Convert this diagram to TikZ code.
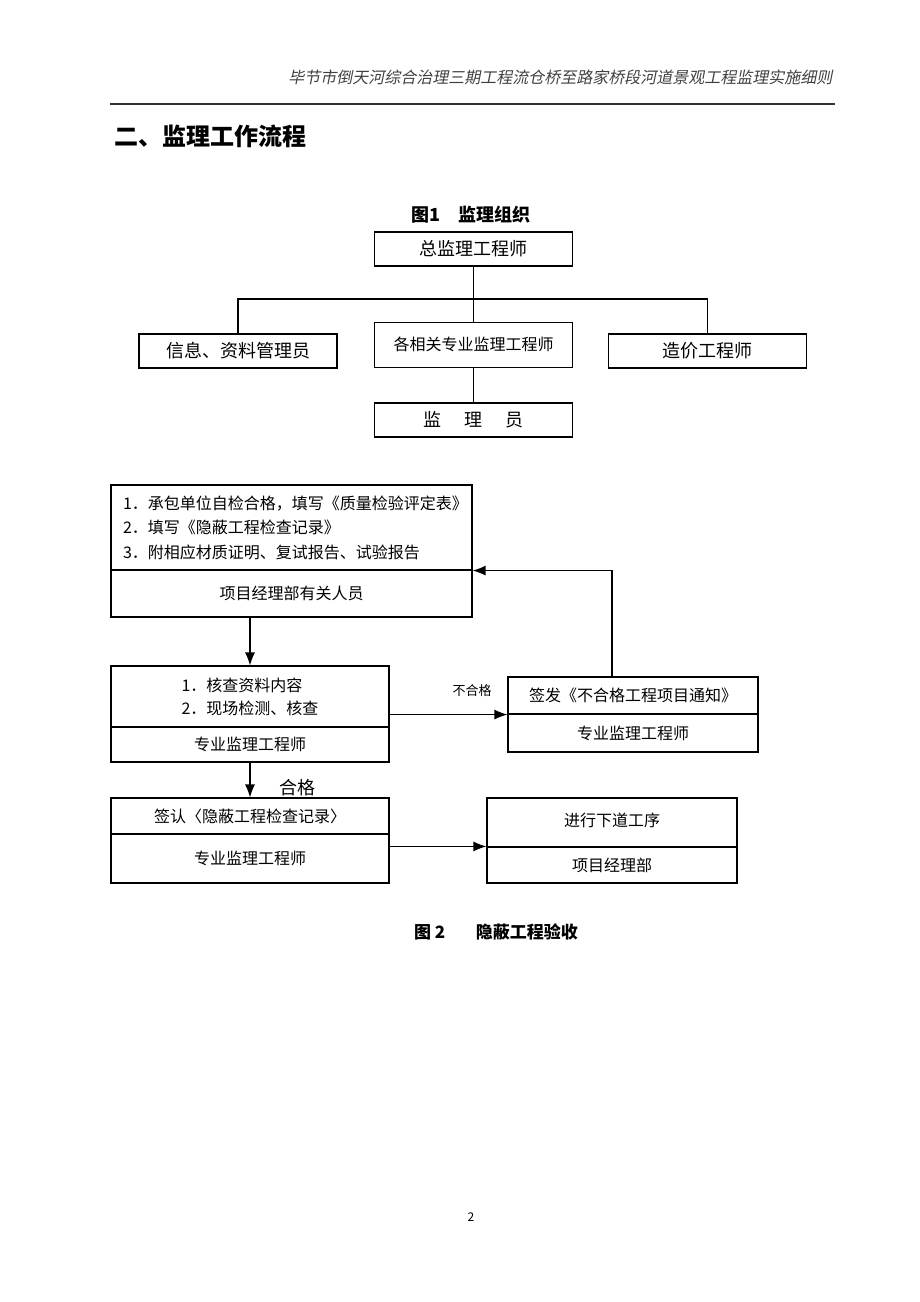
\documentclass[tikz,border=0pt]{standalone}
\usepackage{fontspec}
\setmainfont{Noto Sans CJK SC}
\newfontfamily\hdrfont{Noto Sans CJK SC}[FakeSlant=0.2]
\usetikzlibrary{arrows.meta}

\tikzset{
    box/.style={draw, line width=1.1pt, rectangle, inner sep=0pt, font=\fontsize{16}{23}\selectfont},
    orgbox/.style={box, minimum width=198pt, minimum height=34pt, font=\fontsize{18}{22}\selectfont},
    flow/.style={line width=1.2pt, -{Latex[length=13pt,width=10pt]}},
    link/.style={line width=1.1pt}
}

\begin{document}
\begin{tikzpicture}[x=1pt, y=-1pt]
        \useasboundingbox (0,0) rectangle (920,1302);

        % Page header and rule
        \node[anchor=east, text=black!75] (header) at (836, 77) {\hdrfont\fontsize{16}{18}\selectfont 毕节市倒天河综合治理三期工程流仓桥至路家桥段河道景观工程监理实施细则};
        \draw[line width=1.6pt, black!80] (110, 104) -- (835, 104);
        \node[anchor=west] (title) at (111, 136) {\fontsize{24}{28}\selectfont\bfseries 二、监理工作流程};

        % Figure 1: supervision organisation
        \node (cap1) at (471, 215) {\fontsize{18}{20}\selectfont\bfseries 图1\quad 监理组织};
        \node[orgbox] (zong) at (473.5, 249) {总监理工程师};
        \node[orgbox] (xinxi) at (238, 351) {信息、资料管理员};
        \node[orgbox, minimum height=45pt, font=\fontsize{16}{20}\selectfont] (gexiang) at (473.5, 345) {\raisebox{2pt}{各相关专业监理工程师}};
        \node[orgbox] (zaojia) at (707.5, 351) {造价工程师};
        \node[orgbox] (jly) at (473.5, 420) {监\hspace{1.3em}理\hspace{1.3em}员};

        \coordinate (hub) at (473.5, 299);
        \draw[link] (zong.south) -- (gexiang.north);
        \draw[link] (xinxi.north) |- (hub) -| (zaojia.north);
        \draw[link] (gexiang.south) -- (jly.north);

        % Figure 2: acceptance of concealed works
        \node[box, minimum width=361pt, minimum height=85pt, align=left, text width=341pt, font=\fontsize{16}{24.5}\selectfont] (aTop) at (291.5, 527.5) {\hspace*{2pt}1．承包单位自检合格，填写《质量检验评定表》\\\hspace*{2pt}2．填写《隐蔽工程检查记录》\\\hspace*{2pt}3．附相应材质证明、复试报告、试验报告};
        \node[box, minimum width=361pt, minimum height=47pt] (aBot) at (291.5, 593.5) {\raisebox{-6pt}{项目经理部有关人员}};

        \node[box, minimum width=278pt, minimum height=61pt, align=left] (bTop) at (250, 696.5) {1．核查资料内容\\2．现场检测、核查};
        \node[box, minimum width=278pt, minimum height=35pt] (bBot) at (250, 744.5) {专业监理工程师};

        \node[box, minimum width=250pt, minimum height=37pt] (cTop) at (633, 695.5) {签发《不合格工程项目通知》};
        \node[box, minimum width=250pt, minimum height=38pt] (cBot) at (633, 733) {专业监理工程师};

        \node[box, minimum width=278pt, minimum height=36pt] (dTop) at (250, 816) {签认〈隐蔽工程检查记录〉};
        \node[box, minimum width=278pt, minimum height=49pt] (dBot) at (250, 858.5) {\raisebox{-6pt}{专业监理工程师}};

        \node[box, minimum width=250pt, minimum height=49pt] (eTop) at (612, 822.5) {\raisebox{5pt}{进行下道工序}};
        \node[box, minimum width=250pt, minimum height=36pt] (eBot) at (612, 865) {项目经理部};

        % Arrows between the steps
        \draw[flow] (bTop.north |- aBot.south) -- (bTop.north);
        \draw[flow] (bTop.east |- cTop.south west) -- (cTop.south west);
        \node (buhege) at (472, 691) {\fontsize{13}{15}\selectfont 不合格};
        \coordinate (cUp) at (612, 677);
        \draw[flow] (cUp) |- (aTop.south east);
        \draw[flow] (bBot.south) -- (dTop.north);
        \node (hege) at (297, 788) {\fontsize{18}{20}\selectfont 合格};
        \draw[flow] (dBot.east |- eBot.north west) -- (eBot.north west);

        \node (cap2) at (496, 932) {\fontsize{17}{20}\selectfont\bfseries 图 2\hspace{1.8em}隐蔽工程验收};

        % Page number
        \node (pageno) at (471, 1217) {\fontsize{12}{14}\selectfont 2};
    \end{tikzpicture}
\end{document}
